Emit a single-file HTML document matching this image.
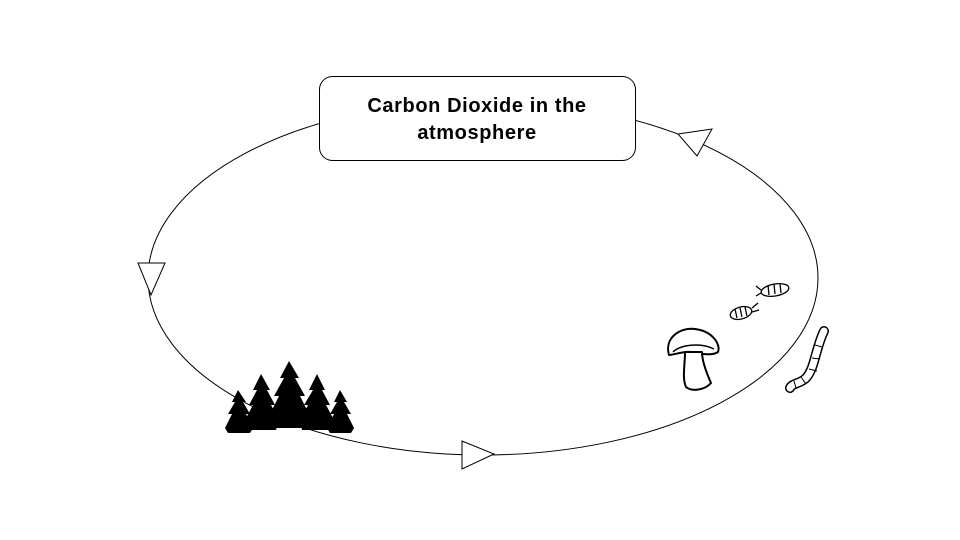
<!DOCTYPE html>
<html><head><meta charset="utf-8"><style>
html,body{margin:0;padding:0;background:#fff;}
svg{display:block}
</style></head><body>
<svg width="960" height="540" viewBox="0 0 960 540" xmlns="http://www.w3.org/2000/svg">
<rect width="960" height="540" fill="#fff"/>
<ellipse cx="483" cy="278" rx="335" ry="177" fill="none" stroke="#000" stroke-width="1"/>
<polygon points="138,263 165,263 151,295" fill="#fff" stroke="#000" stroke-width="1"/>
<polygon points="462,441 462,469 494,454" fill="#fff" stroke="#000" stroke-width="1"/>
<polygon points="678,134 712,129 697,156" fill="#fff" stroke="#000" stroke-width="1"/>
<rect x="319.5" y="76.5" width="316" height="84" rx="13" fill="#fff" stroke="#000" stroke-width="1"/>
<text x="477" y="112" font-family="Liberation Sans, sans-serif" font-weight="bold" font-size="20" letter-spacing="0.6" text-anchor="middle">Carbon Dioxide in the</text>
<text x="477" y="139" font-family="Liberation Sans, sans-serif" font-weight="bold" font-size="20" letter-spacing="0.6" text-anchor="middle">atmosphere</text>
<g fill="#000">
<polygon points="238,390 232,402 235,402 228,414 232,414 225,428 228,433 250,433 253,428 246,414 250,414 243,402 246,402"/>
<polygon points="261,374 253,390 257,390 249,405 253,405 245,420 247,430 276,430 279,420 271,405 275,405 267,390 270,390"/>
<polygon points="289,361 280,378 284,378 274,396 279,396 270,414 273,428 306,428 309,414 300,396 305,396 295,378 299,378"/>
<polygon points="317,374 309,390 313,390 304,405 308,405 300,420 302,430 332,430 334,420 326,405 330,405 322,390 325,390"/>
<polygon points="340,390 334,402 337,402 330,414 334,414 327,428 330,433 351,433 354,428 347,414 351,414 344,402 347,402"/>
</g>
<g fill="#fff" stroke="#000" stroke-width="2" stroke-linejoin="round">
<path d="M669,355 C664,338 680,327 695,329 C712,331 721,344 718,352 C712,356 702,354 692,352 C682,351 674,355 669,355 Z"/>
<path d="M685,352 C685,365 682,378 686,387 C692,392 705,390 711,383 C707,374 702,362 702,352 Z"/>
<path d="M673,352 C680,345 700,342 714,349" fill="none" stroke-width="1.5"/>
</g>
<g fill="#fff" stroke="#000" stroke-width="1.3">
<ellipse cx="741" cy="313" rx="11" ry="6" transform="rotate(-15 741 313)"/>
<ellipse cx="775" cy="290" rx="14" ry="6" transform="rotate(-10 775 290)"/>
<path d="M735,309 L737,318 M740,308 L742,317 M745,307 L747,316 M768,285 L769,295 M774,284 L775,294 M780,284 L781,293" fill="none"/>
<path d="M752,308 L758,303 M752,312 L759,310 M761,290 L756,286 M761,293 L756,296" fill="none"/>
</g>
<g fill="none" stroke="#000">
<path d="M824,331 C815,350 815,368 806,378 C800,384 792,383 790,388" stroke-width="10" stroke-linecap="round"/>
<path d="M824,331 C815,350 815,368 806,378 C800,384 792,383 790,388" stroke="#fff" stroke-width="7" stroke-linecap="round"/>
<path d="M815,345 L822,347 M812,358 L820,359 M809,369 L817,371 M801,377 L806,384 M794,381 L796,388" stroke-width="1"/>
</g>
</svg>
</body></html>
